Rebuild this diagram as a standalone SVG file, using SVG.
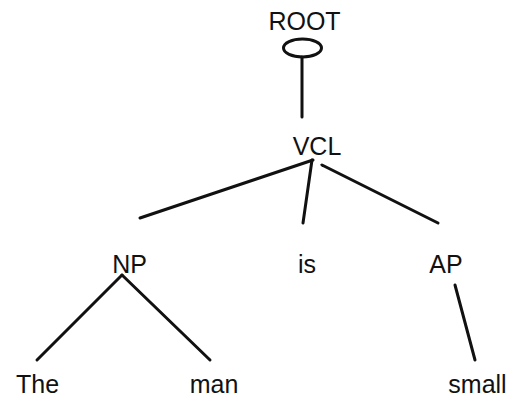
<svg xmlns="http://www.w3.org/2000/svg" width="509" height="398" viewBox="0 0 509 398">
  <style>
    .lbl { font-family: "Liberation Sans", Arial, sans-serif; font-size: 25px; fill: #111; text-anchor: middle; }
    .edge { stroke: #111; stroke-width: 3; stroke-linecap: round; fill: none; }
  </style>
  <rect width="509" height="398" fill="#fff"/>
  <g id="connectors">
    <line class="edge" x1="302" y1="57" x2="302" y2="117"/>
    <line class="edge" x1="313" y1="160" x2="140" y2="218"/>
    <line class="edge" x1="312" y1="160" x2="303" y2="223"/>
    <line class="edge" x1="322" y1="165" x2="438" y2="223"/>
    <line class="edge" x1="122" y1="275" x2="37" y2="360"/>
    <line class="edge" x1="122" y1="275" x2="210" y2="360"/>
    <line class="edge" x1="455" y1="285" x2="475" y2="360"/>
  </g>
  <g id="root">
    <text class="lbl" x="304.5" y="30">ROOT</text>
    <ellipse cx="302.5" cy="48" rx="19" ry="9" fill="none" stroke="#111" stroke-width="3"/>
  </g>
  <g id="vcl"><text class="lbl" x="317" y="155">VCL</text></g>
  <g id="np"><text class="lbl" x="129.5" y="273">NP</text></g>
  <g id="is"><text class="lbl" x="307" y="273">is</text></g>
  <g id="ap"><text class="lbl" x="446" y="273">AP</text></g>
  <g id="the"><text class="lbl" x="37.5" y="393">The</text></g>
  <g id="man"><text class="lbl" x="214" y="393">man</text></g>
  <g id="small"><text class="lbl" x="477.5" y="393">small</text></g>
</svg>
